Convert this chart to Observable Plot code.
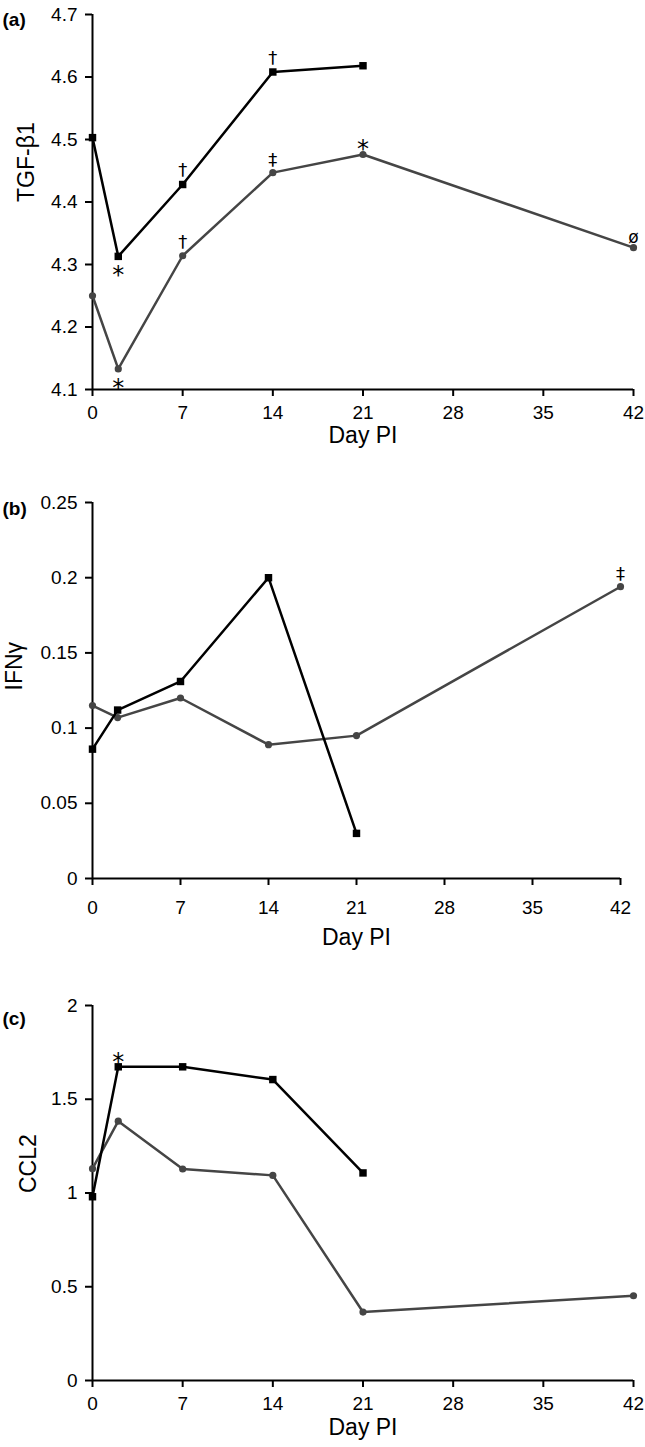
<!DOCTYPE html>
<html>
<head>
<meta charset="utf-8">
<script src="https://cdn.jsdelivr.net/npm/d3@7"></script>
<script src="https://cdn.jsdelivr.net/npm/@observablehq/plot@0.6"></script>
<style>
  html, body { margin: 0; padding: 0; background: white; }
  #chart svg { display: block; }
  #chart g[aria-label$="tick label"], #chart g[aria-label$="tick label"] text { font-size: 19px !important; }
</style>
</head>
<body>
<div id="chart"></div>
<script>
// ---- data ----
const daysSquare = [0, 2, 7, 14, 21];
const daysCircle = [0, 2, 7, 14, 21, 42];
const xTicks = [0, 7, 14, 21, 28, 35, 42];

const tgfSquare = [4.503, 4.313, 4.428, 4.608, 4.618];
const tgfCircle = [4.250, 4.133, 4.314, 4.447, 4.476, 4.327];
const tgfTicks = [4.1, 4.2, 4.3, 4.4, 4.5, 4.6, 4.7];

const ifnSquare = [0.086, 0.112, 0.131, 0.200, 0.030];
const ifnCircle = [0.115, 0.107, 0.120, 0.089, 0.095, 0.194];
const ifnTicks = [0, 0.05, 0.1, 0.15, 0.2, 0.25];

const cclSquare = [0.98, 1.673, 1.673, 1.605, 1.107];
const cclCircle = [1.13, 1.383, 1.128, 1.094, 0.365, 0.452];
const cclTicks = [0, 0.5, 1, 1.5, 2];

// annotations: series, day, symbol, position
const tgfNotes = [
  {series: "square", day: 2, sym: "*", pos: "below"},
  {series: "circle", day: 2, sym: "*", pos: "below"},
  {series: "square", day: 7, sym: "†", pos: "above"},
  {series: "circle", day: 7, sym: "†", pos: "above"},
  {series: "square", day: 14, sym: "†", pos: "above"},
  {series: "circle", day: 14, sym: "‡", pos: "above"},
  {series: "circle", day: 21, sym: "*", pos: "above"},
  {series: "circle", day: 42, sym: "ø", pos: "above"}
];
const ifnNotes = [
  {series: "circle", day: 42, sym: "‡", pos: "above"}
];
const cclNotes = [
  {series: "square", day: 2, sym: "*", pos: "above"}
];

const FONT = "'Liberation Sans', Arial, Helvetica, sans-serif";
const GRAY = "#454545";
const symStyle = {
  "*": {size: 24, above: -5, below: 19},
  "†": {size: 18, above: -14, below: 14},
  "‡": {size: 18, above: -12, below: 12},
  "ø": {size: 17, above: -10, below: 10}
};

function rows(days, vals) { return days.map((d, i) => ({day: d, value: vals[i]})); }

function panel(cfg) {
  const sq = rows(daysSquare, cfg.square);
  const ci = rows(daysCircle, cfg.circle);
  const lookup = {square: sq, circle: ci};
  const noteMarks = cfg.notes.map(n => {
    const row = lookup[n.series].find(r => r.day === n.day);
    return Plot.text([{...row, sym: n.sym}], {
      x: "day", y: "value", text: "sym",
      dy: symStyle[n.sym][n.pos], fontSize: symStyle[n.sym].size, fill: "black",
      fontFamily: "'DejaVu Sans', 'Liberation Sans', sans-serif"
    });
  });
  return Plot.plot({
    width: 645,
    height: cfg.height,
    marginLeft: 92,
    marginRight: cfg.marginRight,
    marginTop: cfg.marginTop,
    marginBottom: cfg.marginBottom,
    style: {fontFamily: FONT, fontSize: "19px", background: "white", color: "black", overflow: "visible"},
    x: {domain: [0, 42]},
    y: {domain: cfg.domain},
    marks: [
      Plot.axisY({ticks: cfg.ticks, tickFormat: d => String(d), tickSize: 7, tickPadding: 8,
                  strokeWidth: 2, fontSize: 19, label: null}),
      Plot.axisX({ticks: xTicks, tickFormat: d => String(d), tickSize: 7, tickPadding: cfg.xPad,
                  strokeWidth: 2, fontSize: 19, label: null}),
      Plot.ruleX([0], {stroke: "black", strokeWidth: 2}),
      Plot.ruleY([cfg.domain[0]], {stroke: "black", strokeWidth: 2}),
      Plot.line(ci, {x: "day", y: "value", stroke: GRAY, strokeWidth: 2.5}),
      Plot.dot(ci, {x: "day", y: "value", r: 3.6, fill: GRAY, symbol: "circle"}),
      Plot.line(sq, {x: "day", y: "value", stroke: "black", strokeWidth: 2.5}),
      Plot.dot(sq, {x: "day", y: "value", r: 4.2, fill: "black", symbol: "square"}),
      ...noteMarks,
      Plot.text([cfg.yLabel], {frameAnchor: "left", dx: cfg.yLabelDx, rotate: -90, fontSize: 23, fill: "black"}),
      Plot.text(["Day PI"], {frameAnchor: "bottom", dy: cfg.xLabelDy, fontSize: 23, fill: "black"}),
      Plot.text([cfg.tag], {frameAnchor: "top-left", dx: -90, dy: cfg.tagDy, textAnchor: "start",
                            fontSize: 19, fontWeight: "bold", fill: "black"})
    ]
  });
}

const root = document.getElementById("chart");
root.append(panel({
  tag: "(a)", yLabel: "TGF-β1", square: tgfSquare, circle: tgfCircle, notes: tgfNotes,
  domain: [4.1, 4.7], ticks: tgfTicks,
  height: 480, marginTop: 14, marginBottom: 91, marginRight: 12,
  xPad: 9, yLabelDx: -66, xLabelDy: 53, tagDy: -2
}));
root.append(panel({
  tag: "(b)", yLabel: "IFNγ", square: ifnSquare, circle: ifnCircle, notes: ifnNotes,
  domain: [0, 0.25], ticks: ifnTicks,
  height: 500, marginTop: 22, marginBottom: 102, marginRight: 25,
  xPad: 15, yLabelDx: -78, xLabelDy: 66, tagDy: -1
}));
root.append(panel({
  tag: "(c)", yLabel: "CCL2", square: cclSquare, circle: cclCircle, notes: cclNotes,
  domain: [0, 2], ticks: cclTicks,
  height: 467, marginTop: 25, marginBottom: 67, marginRight: 12,
  xPad: 9, yLabelDx: -64, xLabelDy: 54, tagDy: 6
}));
</script>
</body>
</html>
